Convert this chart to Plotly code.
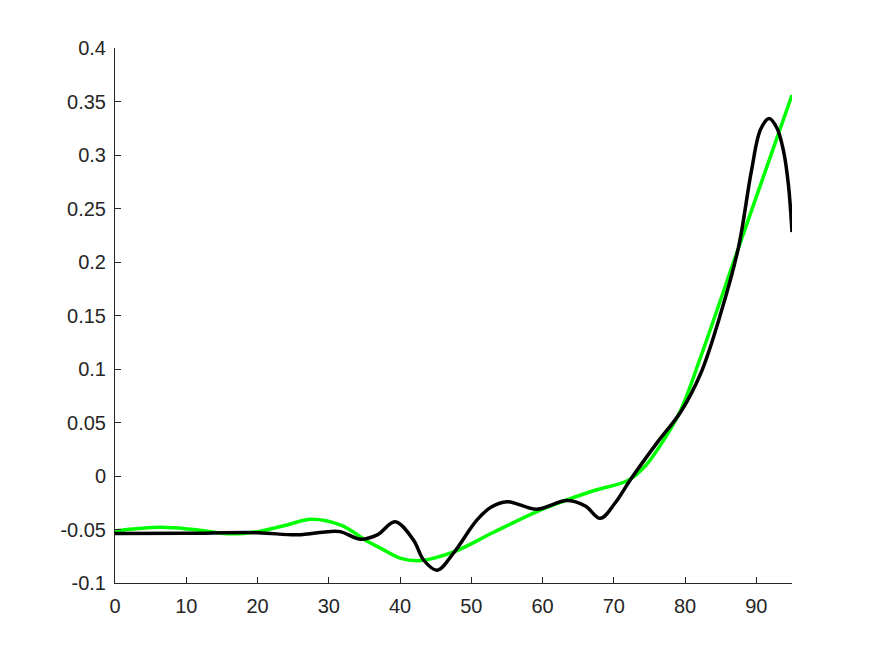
import plotly.graph_objects as go

green_x = [0, 6.4, 11, 16.3, 20, 24, 27.5, 31.7, 35.4, 37.3, 40.1, 42.9, 47.6, 53, 59.7, 66.7, 72.1, 74.5, 77, 79.4, 82.2, 86.9, 91, 95]
green_y = [-0.0514, -0.048, -0.050, -0.054, -0.052, -0.046, -0.0405, -0.046, -0.061, -0.0676, -0.077, -0.079, -0.0707, -0.053, -0.0318, -0.0147, -0.0037, 0.010, 0.0336, 0.0617, 0.1115, 0.2019, 0.280, 0.356]

black_x = [0, 10, 20, 25.6, 29.8, 31.6, 34.4, 36.8, 39.3, 41.9, 43.3, 45.2, 47.5, 50.8, 52.8, 55, 59.2, 63.4, 66, 68.1, 70.2, 72.3, 76, 79.4, 82.2, 85, 87.5, 89.3, 90.6, 91.8, 92.9, 93.8, 94.5, 95]
black_y = [-0.0537, -0.0535, -0.053, -0.055, -0.052, -0.052, -0.059, -0.055, -0.0427, -0.060, -0.0785, -0.088, -0.072, -0.041, -0.029, -0.024, -0.031, -0.023, -0.028, -0.0396, -0.025, -0.0037, 0.0305, 0.060, 0.096, 0.152, 0.214, 0.285, 0.324, 0.334, 0.325, 0.304, 0.272, 0.228]

x_ticks = [0, 10, 20, 30, 40, 50, 60, 70, 80, 90]
x_tick_labels = ["0", "10", "20", "30", "40", "50", "60", "70", "80", "90"]
y_ticks = [-0.1, -0.05, 0, 0.05, 0.1, 0.15, 0.2, 0.25, 0.3, 0.35, 0.4]
y_tick_labels = ["-0.1", "-0.05", "0", "0.05", "0.1", "0.15", "0.2", "0.25", "0.3", "0.35", "0.4"]

fig = go.Figure()
fig.add_trace(go.Scatter(x=green_x, y=green_y, mode="lines",
                         line=dict(color="#00FF00", width=3.5, shape="spline", smoothing=1.0),
                         showlegend=False, hoverinfo="skip"))
fig.add_trace(go.Scatter(x=black_x, y=black_y, mode="lines",
                         line=dict(color="#000000", width=3.5, shape="spline", smoothing=1.0),
                         showlegend=False, hoverinfo="skip"))

axis_common = dict(showgrid=False, zeroline=False, showline=True, linecolor="#262626",
                   linewidth=1, ticks="inside", ticklen=6, tickcolor="#262626",
                   tickfont=dict(family="Liberation Sans, Arial, sans-serif", size=20, color="#262626"),
                   mirror=False, automargin=False)
fig.update_xaxes(range=[0, 95], tickvals=x_ticks, ticktext=x_tick_labels, ticklabelstandoff=5, **axis_common)
fig.update_yaxes(range=[-0.1, 0.4], tickvals=y_ticks, ticktext=y_tick_labels, ticklabelstandoff=4, **axis_common)

# page body has an 8px default margin, so margins are offset to place the axes
fig.update_layout(width=875, height=656, paper_bgcolor="white", plot_bgcolor="white",
                  margin=dict(l=107, r=91, t=40, b=81), showlegend=False)

fig.write_html("out.html")
